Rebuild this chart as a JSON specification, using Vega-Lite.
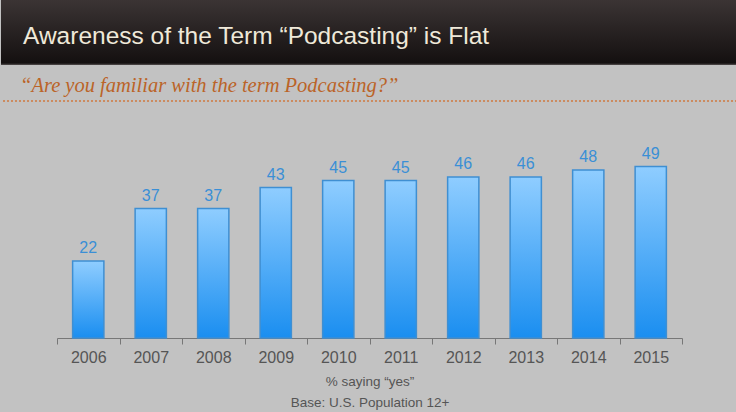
{
  "$schema": "https://vega.github.io/schema/vega-lite/v6.json",
  "padding": {"left": 0, "top": 0, "right": 0, "bottom": 4},
  "background": "#c2c2c2",
  "spacing": 0,
  "config": {"view": {"stroke": null}, "concat": {"spacing": 0}},
  "vconcat": [
    {
      "width": 736,
      "height": 65,
      "view": {
        "stroke": null,
        "fill": {"gradient": "linear", "x1": 0, "y1": 0, "x2": 0, "y2": 1,
          "stops": [{"offset": 0, "color": "#3b3434"}, {"offset": 0.97, "color": "#141010"}, {"offset": 1, "color": "#555050"}]}
      },
      "title": {
        "text": "Awareness of the Term “Podcasting” is Flat",
        "anchor": "start", "frame": "group", "offset": -49, "dx": 22,
        "fontSize": 24.5, "font": "Liberation Sans", "fontWeight": "normal", "color": "#efe9d9"
      },
      "data": {"values": [{"t": ""}]},
      "mark": {"type": "text"},
      "encoding": {"text": {"field": "t"}}
    },
    {
      "width": 736,
      "height": 36,
      "title": {
        "text": "“Are you familiar with the term Podcasting?”",
        "anchor": "start", "frame": "group", "offset": -31, "dx": 19,
        "fontSize": 20.5, "font": "Liberation Serif", "fontStyle": "italic", "fontWeight": "normal", "color": "#bb6428"
      },
      "data": {"values": [{"v": 0}]},
      "mark": {"type": "rule", "color": "#cf7a40", "strokeDash": [2, 2], "strokeWidth": 1.5},
      "encoding": {
        "y": {"field": "v", "type": "quantitative", "scale": {"domain": [0, 1]}, "axis": null}
      }
    },
    {
      "width": 736,
      "height": 236,
      "data": {"values": [
        {"year": "2006", "v": 22},
        {"year": "2007", "v": 37},
        {"year": "2008", "v": 37},
        {"year": "2009", "v": 43},
        {"year": "2010", "v": 45},
        {"year": "2011", "v": 45},
        {"year": "2012", "v": 46},
        {"year": "2013", "v": 46},
        {"year": "2014", "v": 48},
        {"year": "2015", "v": 49}
      ]},
      "encoding": {
        "x": {
          "field": "year", "type": "ordinal",
          "scale": {"range": [56, 681], "paddingInner": 0, "paddingOuter": 0},
          "axis": {
            "labelAngle": 0, "labelFontSize": 16, "labelColor": "#555555", "labelFont": "Liberation Sans",
            "ticks": true, "tickBand": "extent",
            "domainColor": "#777777", "tickColor": "#777777", "tickSize": 6, "tickWidth": 1, "domainWidth": 1, "labelPadding": 5,
            "title": ["% saying “yes”", "Base: U.S. Population 12+"],
            "titleFontSize": 13.5, "titleFont": "Liberation Sans", "titleFontWeight": "normal", "titleColor": "#555555",
            "titlePadding": 9, "titleLineHeight": 21
          }
        },
        "y": {"field": "v", "type": "quantitative", "scale": {"domain": [0, 67.43], "nice": false}, "axis": null}
      },
      "layer": [
        {
          "mark": {
            "type": "bar", "width": {"band": 0.5}, "stroke": "#3f8fd2", "strokeWidth": 1.5,
            "color": {"gradient": "linear", "x1": 0, "y1": 0, "x2": 0, "y2": 1,
              "stops": [{"offset": 0, "color": "#8fcdff"}, {"offset": 1, "color": "#1a8ef0"}]}
          }
        },
        {
          "mark": {"type": "text", "baseline": "bottom", "dy": -5, "fontSize": 16, "font": "Liberation Sans", "color": "#3a8fd6"},
          "encoding": {"text": {"field": "v", "type": "quantitative"}}
        }
      ]
    }
  ]
}
